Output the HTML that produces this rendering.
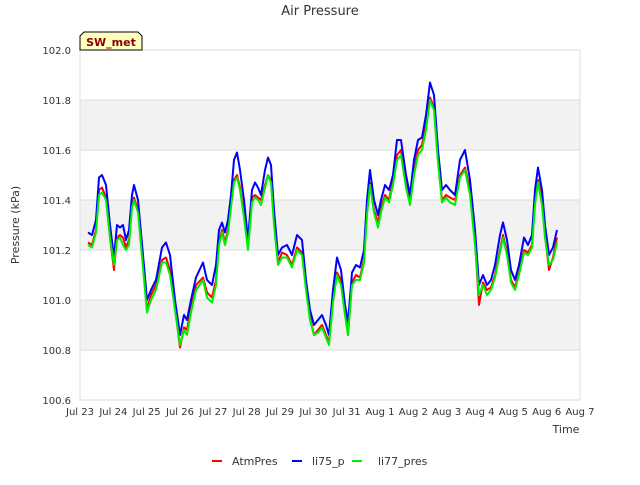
<!DOCTYPE html>
<html><head><meta charset="utf-8"><style>
body{margin:0;background:#fff;font-family:"Liberation Sans","DejaVu Sans",sans-serif}
svg text{font-family:"DejaVu Sans","Liberation Sans",sans-serif}
</style></head><body>
<svg id="c" width="640" height="480" xmlns="http://www.w3.org/2000/svg">
<text x="320" y="15" text-anchor="middle" font-size="13" fill="#333">Air Pressure</text>
<g id="bands"></g><g id="grid"></g>
<rect x="80" y="50" width="500" height="350" fill="none" stroke="#ddd"/>
<g id="ticks"></g><g id="lines"></g>
<text x="19" y="225" transform="rotate(-90 19 225)" text-anchor="middle" font-size="11" fill="#333">Pressure (kPa)</text>
<text x="566" y="433" text-anchor="middle" font-size="11" fill="#333">Time</text>
<g><path d="M80,50 L80,36 L84,32 L138,32 L142,36 L142,50 Z" fill="#ffffc0" stroke="#000"/><text x="111" y="46" text-anchor="middle" font-size="11" font-weight="bold" fill="#8b0000">SW_met</text></g>
<g>
<g><line x1="212" y1="461" x2="222" y2="461" stroke="#f00" stroke-width="2"/><text x="232" y="465" font-size="11" fill="#333">AtmPres</text></g>
<g><line x1="292" y1="461" x2="302" y2="461" stroke="#00f" stroke-width="2"/><text x="312" y="465" font-size="11" fill="#333">li75_p</text></g>
<g><line x1="352" y1="461" x2="362" y2="461" stroke="#0e0" stroke-width="2"/><text x="378" y="465" font-size="11" fill="#333">li77_pres</text></g>
</g>
</svg>
<script>
const xTickLabels=["Jul 23","Jul 24","Jul 25","Jul 26","Jul 27","Jul 28","Jul 29","Jul 30","Jul 31","Aug 1","Aug 2","Aug 3","Aug 4","Aug 5","Aug 6","Aug 7"];
const yTicks=[100.6,100.8,101.0,101.2,101.4,101.6,101.8,102.0];
const days=[.24,.36,.48,.57,.66,.78,.90,1.02,1.11,1.20,1.29,1.38,1.47,1.56,1.62,1.74,1.89,2.01,2.13,2.28,2.46,2.58,2.70,2.85,3.00,3.12,3.21,3.33,3.48,3.69,3.81,3.96,4.08,4.17,4.26,4.35,4.44,4.53,4.62,4.71,4.80,4.92,5.04,5.16,5.25,5.34,5.43,5.55,5.64,5.73,5.82,5.94,6.06,6.21,6.36,6.51,6.66,6.78,6.90,7.02,7.14,7.26,7.38,7.47,7.59,7.71,7.83,7.95,8.04,8.16,8.28,8.40,8.52,8.61,8.70,8.82,8.94,9.03,9.15,9.27,9.39,9.51,9.63,9.78,9.90,10.02,10.14,10.26,10.38,10.50,10.62,10.74,10.86,10.98,11.10,11.25,11.40,11.55,11.70,11.85,11.97,12.09,12.21,12.33,12.45,12.60,12.69,12.81,12.93,13.05,13.17,13.32,13.44,13.56,13.65,13.74,13.86,13.95,14.07,14.19,14.31];
const li75=[101.27,101.26,101.32,101.49,101.50,101.46,101.30,101.17,101.30,101.29,101.30,101.24,101.28,101.42,101.46,101.40,101.18,101.00,101.04,101.08,101.21,101.23,101.18,101.00,100.86,100.94,100.92,101.00,101.09,101.15,101.08,101.06,101.14,101.28,101.31,101.27,101.32,101.42,101.56,101.59,101.52,101.40,101.24,101.44,101.47,101.45,101.42,101.52,101.57,101.54,101.36,101.18,101.21,101.22,101.18,101.26,101.24,101.08,100.96,100.90,100.92,100.94,100.90,100.86,101.04,101.17,101.12,100.98,100.91,101.11,101.14,101.13,101.20,101.40,101.52,101.40,101.34,101.40,101.46,101.44,101.50,101.64,101.64,101.50,101.42,101.56,101.64,101.65,101.74,101.87,101.82,101.60,101.44,101.46,101.44,101.42,101.56,101.60,101.48,101.28,101.06,101.10,101.06,101.08,101.14,101.26,101.31,101.24,101.12,101.08,101.14,101.25,101.22,101.26,101.44,101.53,101.44,101.30,101.18,101.21,101.28];
const atmPres=[101.23,101.22,101.28,101.44,101.45,101.41,101.25,101.12,101.25,101.26,101.25,101.21,101.24,101.38,101.41,101.36,101.14,100.96,101.02,101.06,101.16,101.17,101.12,100.97,100.81,100.89,100.88,100.97,101.06,101.09,101.03,101.01,101.08,101.23,101.28,101.23,101.28,101.38,101.48,101.50,101.45,101.34,101.21,101.41,101.42,101.41,101.40,101.46,101.50,101.48,101.32,101.15,101.19,101.18,101.14,101.21,101.19,101.05,100.93,100.86,100.88,100.90,100.86,100.83,101.00,101.11,101.08,100.95,100.86,101.07,101.10,101.09,101.16,101.36,101.47,101.36,101.31,101.37,101.42,101.40,101.48,101.58,101.60,101.46,101.40,101.52,101.60,101.62,101.70,101.81,101.77,101.56,101.40,101.42,101.41,101.40,101.50,101.53,101.44,101.24,100.98,101.07,101.04,101.05,101.10,101.20,101.26,101.19,101.08,101.05,101.11,101.20,101.19,101.22,101.40,101.48,101.40,101.26,101.12,101.17,101.25];
const li77=[101.22,101.21,101.27,101.42,101.43,101.40,101.25,101.14,101.24,101.25,101.22,101.20,101.22,101.37,101.40,101.35,101.13,100.95,101.00,101.04,101.15,101.15,101.10,100.96,100.82,100.88,100.86,100.95,101.04,101.08,101.01,100.99,101.06,101.22,101.27,101.22,101.27,101.37,101.47,101.49,101.44,101.33,101.20,101.39,101.41,101.40,101.38,101.45,101.50,101.47,101.30,101.14,101.17,101.17,101.13,101.20,101.18,101.04,100.92,100.86,100.87,100.89,100.85,100.82,100.99,101.10,101.06,100.94,100.86,101.06,101.08,101.08,101.15,101.34,101.46,101.35,101.29,101.35,101.41,101.39,101.46,101.56,101.58,101.45,101.38,101.50,101.58,101.60,101.68,101.80,101.76,101.55,101.39,101.41,101.39,101.38,101.49,101.52,101.42,101.22,101.02,101.06,101.02,101.04,101.09,101.19,101.25,101.18,101.07,101.04,101.10,101.19,101.18,101.21,101.38,101.47,101.38,101.25,101.14,101.16,101.23];
const NS="http://www.w3.org/2000/svg";
const X0=80,X1=580,Y0=400,Y1=50,YMIN=100.6,YMAX=102.0;
const xs=d=>X0+d*(X1-X0)/(xTickLabels.length-1);
const ys=v=>Y0-(v-YMIN)*(Y0-Y1)/(YMAX-YMIN);
function mk(t,a,p){const e=document.createElementNS(NS,t);for(const k in a)e.setAttribute(k,a[k]);p.appendChild(e);return e;}
const bands=document.getElementById('bands'),grid=document.getElementById('grid'),ticks=document.getElementById('ticks'),lines=document.getElementById('lines');
for(let i=0;i<yTicks.length-1;i++){if(i%2===1){const r=mk('rect',{x:X0,y:ys(yTicks[i+1]),width:X1-X0,height:ys(yTicks[i])-ys(yTicks[i+1]),fill:'#f2f2f2'},bands);

}}
yTicks.forEach(v=>{const y=ys(v);const l=mk('line',{x1:X0,x2:X1,y1:y,y2:y,stroke:'#ddd'},grid);


const t=mk('text',{x:X0-9,y:y+4,'text-anchor':'end','font-size':10,fill:'#333'},ticks);t.textContent=v.toFixed(1);

});
xTickLabels.forEach((s,i)=>{const x=xs(i);const t=mk('text',{x:x,y:415,'text-anchor':'middle','font-size':10,fill:'#333'},ticks);t.textContent=s;

});
function series(vals,color,name){const n=Math.min(days.length,vals.length);let d='';for(let i=0;i<n;i++)d+=(i?'L':'M')+xs(days[i]).toFixed(1)+','+ys(vals[i]).toFixed(1);
const p=mk('path',{d:d,fill:'none',stroke:color,'stroke-width':2,'stroke-linejoin':'round'},lines);

}
series(atmPres,'#f00','atmpres-line');
series(li75,'#00f','li75-p-line');
series(li77,'#0e0','li77-pres-line');
</script>
</body></html>
